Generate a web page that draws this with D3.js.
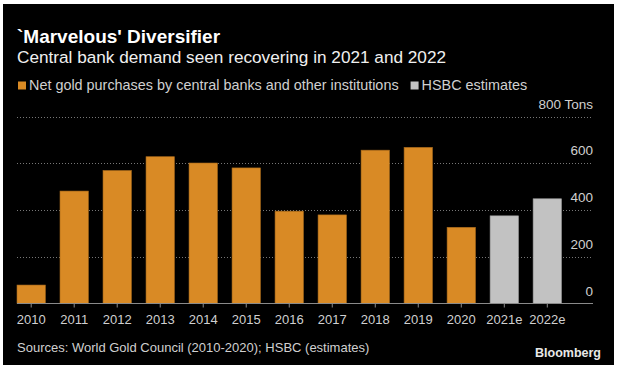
<!DOCTYPE html>
<html>
<head>
<meta charset="utf-8">
<script src="https://cdn.jsdelivr.net/npm/d3@7"></script>
<style>
  html, body { margin: 0; padding: 0; background: #fff; }
  svg { display: block; font-family: 'Liberation Sans', Arial, sans-serif; }
</style>
</head>
<body>
<div id="chart"></div>
<script>
// chart data
const years = ['2010', '2011', '2012', '2013', '2014', '2015', '2016', '2017', '2018', '2019', '2020', '2021e', '2022e']
const tons = [79, 481, 569, 628, 601, 580, 395, 379, 656, 668, 326, 375, 448]
const estimate = [false, false, false, false, false, false, false, false, false, false, false, true, true]
const yTicks = [0, 200, 400, 600, 800]
const legendLabels = ['Net gold purchases by central banks and other institutions', 'HSBC estimates']

const width = 618
const height = 369
const gold = '#d98a25'
const grey = '#c2c2c2'

const svg = d3.select('#chart').append('svg').attr('width', width).attr('height', height)

// black card with a thin white frame around it
svg.append('rect').attr('x', 3).attr('y', 4).attr('width', 611).attr('height', 361).attr('fill', '#000')

const x = d3.scaleBand().domain(years).range([17, 561.5]).paddingInner(0.34).paddingOuter(0)
const y = d3.scaleLinear().domain([0, 800]).range([303.5, 116.5])
const gridRight = 593

// titles
svg.append('text').attr('x', 17).attr('y', 43)
  .attr('fill', '#fff').attr('font-size', 19).attr('font-weight', 'bold')
  .text("`Marvelous' Diversifier")
svg.append('text').attr('x', 17).attr('y', 63)
  .attr('fill', '#f0f0f0').attr('font-size', 17.2)
  .text('Central bank demand seen recovering in 2021 and 2022')

// legend
const legend = svg.append('g').attr('font-size', 14.4).attr('fill', '#d0d0d0')
let lx = 18
legendLabels.forEach((label, i) => {
  legend.append('rect').attr('x', lx).attr('y', 81.5).attr('width', 8).attr('height', 8)
    .attr('fill', i ? grey : gold)
  const t = legend.append('text').attr('x', lx + 11).attr('y', 90).text(label)
  lx += 11 + t.node().getComputedTextLength() + 12
})

// dotted grid lines with labels sitting above them on the right
const grid = svg.append('g')
grid.selectAll('line')
  .data(yTicks.filter(d => d > 0))
  .join('line')
  .attr('x1', 17).attr('x2', gridRight)
  .attr('y1', d => Math.round(y(d)) + 0.5).attr('y2', d => Math.round(y(d)) + 0.5)
  .attr('stroke', '#777').attr('stroke-width', 1).attr('stroke-dasharray', '1,2')
grid.selectAll('text')
  .data(yTicks)
  .join('text')
  .attr('x', gridRight).attr('y', d => y(d) - 8)
  .attr('text-anchor', 'end').attr('font-size', 13.5).attr('fill', '#d0d0d0')
  .text(d => d === 800 ? '800 Tons' : d)

// bars
svg.append('g')
  .selectAll('rect')
  .data(years)
  .join('rect')
  .attr('x', d => x(d))
  .attr('width', x.bandwidth())
  .attr('y', (d, i) => y(tons[i]))
  .attr('height', (d, i) => y(0) - y(tons[i]))
  .attr('fill', (d, i) => estimate[i] ? grey : gold)
  .attr('stroke', (d, i) => estimate[i] ? '#9a9a9a' : '#a86a1c')
  .attr('stroke-width', 0.6)

// x axis: baseline, small ticks and year labels
const axis = svg.append('g').attr('transform', `translate(0,${y(0)})`)
  .call(d3.axisBottom(x).tickSize(4).tickPadding(7))
axis.select('.domain').remove()
axis.insert('line', ':first-child').attr('x1', 17).attr('x2', gridRight)
  .attr('stroke', '#8a8a8a').attr('stroke-width', 1.2)
axis.selectAll('.tick line').attr('stroke', '#8a8a8a')
axis.selectAll('.tick text').attr('fill', '#d0d0d0')
  .attr('font-size', 13).attr('font-family', "'Liberation Sans', Arial, sans-serif")

// footer
svg.append('text').attr('x', 17).attr('y', 352)
  .attr('fill', '#d0d0d0').attr('font-size', 13)
  .text('Sources: World Gold Council (2010-2020); HSBC (estimates)')
svg.append('text').attr('x', 601).attr('y', 357)
  .attr('text-anchor', 'end').attr('fill', '#e8e8e8').attr('font-size', 12.5).attr('font-weight', 'bold')
  .text('Bloomberg')
</script>
</body>
</html>
